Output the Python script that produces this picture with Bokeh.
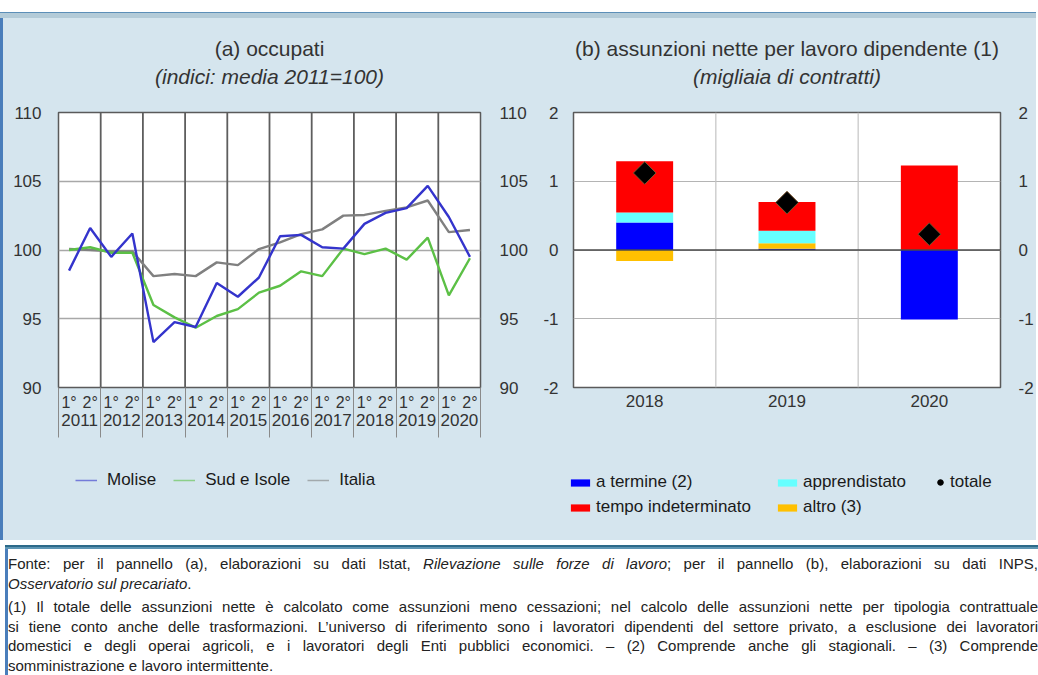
import numpy as np
from bokeh.plotting import figure
from bokeh.models import (FactorRange, Range1d, LinearAxis, Span, Legend, FixedTicker,
                          LegendItem, Title, Div, ColumnDataSource)
from bokeh.layouts import row, column
from bokeh.embed import file_html
from bokeh.resources import INLINE

# ---------------- data: panel (a) ----------------
years_a = ["2011", "2012", "2013", "2014", "2015", "2016", "2017", "2018", "2019", "2020"]
halves = ["1°", "2°"]
molise = [98.5, 101.6, 99.5, 101.2, 93.3, 94.75, 94.4, 97.6, 96.6, 98.0,
          101.0, 101.1, 100.2, 100.1, 101.9, 102.7, 103.05, 104.66, 102.4, 99.5]
sud_isole = [100.0, 100.2, 99.8, 99.8, 96.0, 95.1, 94.35, 95.2, 95.7, 96.9,
             97.4, 98.45, 98.1, 100.1, 99.7, 100.1, 99.3, 100.9, 96.7, 99.4]
italia = [100.07, 100.0, 99.9, 99.9, 98.1, 98.25, 98.1, 99.1, 98.9, 100.07,
          100.55, 101.15, 101.5, 102.5, 102.55, 102.85, 103.1, 103.6, 101.3, 101.45]
yticks_a = [90, 95, 100, 105, 110]

# ---------------- data: panel (b) ----------------
years_b = ["2018", "2019", "2020"]
a_termine = [0.40, 0.02, -1.01]
altro = [-0.16, 0.08, 0.0]
apprendistato = [0.145, 0.18, 0.0]
tempo_indeterminato = [0.745, 0.42, 1.23]
totale = [1.12, 0.69, 0.23]
yticks_b = [-2, -1, 0, 1, 2]

title_a = "(a) occupati"
subtitle_a = "(indici: media 2011=100)"
title_b = "(b) assunzioni nette per lavoro dipendente (1)"
subtitle_b = "(migliaia di contratti)"

foot_fonte = ('Fonte: per il pannello (a), elaborazioni su dati Istat, <i>Rilevazione sulle forze di lavoro</i>; '
              'per il pannello (b), elaborazioni su dati INPS,')
foot_fonte2 = '<i>Osservatorio sul precariato</i>.'
foot_notes = [
    "(1) Il totale delle assunzioni nette è calcolato come assunzioni meno cessazioni; nel calcolo delle assunzioni nette per tipologia contrattuale",
    "si tiene conto anche delle trasformazioni. L’universo di riferimento sono i lavoratori dipendenti del settore privato, a esclusione dei lavoratori",
    "domestici e degli operai agricoli, e i lavoratori degli Enti pubblici economici. – (2) Comprende anche gli stagionali. – (3) Comprende",
    "somministrazione e lavoro intermittente.",
]

FONT = "Liberation Sans"
TXT = "#333333"
PANEL_BG = "#d5e5ee"

C_MOLISE = "#3434cc"
C_SUD = "#5cc046"
C_ITALIA = "#808080"
C_BLUE = "#0000ff"
C_RED = "#ff0000"
C_CYAN = "#66ffff"
C_YELLOW = "#ffc000"


def style_common(p):
    p.background_fill_color = "white"
    p.border_fill_alpha = 0
    p.outline_line_color = "#5a5a5a"
    p.outline_line_width = 1.5
    p.toolbar.logo = None


def style_yaxis(ax, standoff, ticks):
    ax.ticker = ticks
    ax.major_tick_line_color = None
    ax.minor_tick_line_color = None
    ax.axis_line_color = None
    ax.major_label_text_font = FONT
    ax.major_label_text_font_size = "17px"
    ax.major_label_text_color = TXT
    ax.major_label_standoff = standoff
    ax.major_label_overrides = {t: str(t) for t in ticks}


def add_titles(p, main, sub):
    p.add_layout(Title(text=" ", align="center", text_font=FONT, text_font_size="10px",
                       standoff=10), "above")
    p.add_layout(Title(text=sub, align="center", text_font=FONT, text_font_size="21px",
                       text_font_style="italic", text_color=TXT, standoff=3), "above")
    p.add_layout(Title(text=main, align="center", text_font=FONT, text_font_size="21px",
                       text_font_style="normal", text_color=TXT, standoff=3), "above")


def legend_fig(width):
    f = figure(width=width, height=95, title=None, x_range=Range1d(0, 1), y_range=Range1d(0, 1),
               x_axis_type=None, y_axis_type=None, output_backend="svg", toolbar_location=None,
               min_border_left=0, min_border_right=0, min_border_top=0, min_border_bottom=0)
    f.background_fill_alpha = 0
    f.border_fill_alpha = 0
    f.outline_line_color = None
    f.xgrid.visible = False
    f.ygrid.visible = False
    return f


def make_legend(items, loc, orientation, gw, gh, spacing, standoff):
    return Legend(items=items, orientation=orientation, location=loc, padding=0, margin=0,
                  spacing=spacing, glyph_width=gw, glyph_height=gh, label_height=20,
                  label_standoff=standoff, label_text_font=FONT, label_text_font_size="17px",
                  label_text_color="#1a1a1a", border_line_color=None, background_fill_alpha=0)


# ---------------- panel (a) ----------------
factors = [(y, h) for y in years_a for h in halves]
pa = figure(width=530, height=445, title=None,
            x_range=FactorRange(factors=factors, group_padding=0, factor_padding=0, range_padding=0),
            y_range=Range1d(yticks_a[0], yticks_a[-1]),
            output_backend="svg", toolbar_location=None,
            min_border_left=58, min_border_right=47, min_border_top=112, min_border_bottom=58)
style_common(pa)
add_titles(pa, title_a, subtitle_a)

style_yaxis(pa.yaxis[0], 11, yticks_a)
ra = LinearAxis()
style_yaxis(ra, 13, yticks_a)
pa.add_layout(ra, "right")

xa = pa.xaxis[0]
xa.major_tick_line_color = None
xa.axis_line_color = None
xa.major_label_text_font = FONT
xa.major_label_text_font_size = "16px"
xa.major_label_text_color = TXT
xa.major_label_standoff = 0
xa.group_text_font = FONT
xa.group_text_font_size = "17px"
xa.group_text_font_style = "normal"
xa.group_text_color = TXT
xa.separator_line_color = None

bounds_a = [i * len(halves) for i in range(len(years_a) + 1)]
sep_axis = LinearAxis(ticker=FixedTicker(ticks=bounds_a), major_tick_in=-50, major_tick_out=0,
                      major_tick_line_color="#8a8a8a", major_tick_line_width=1,
                      minor_tick_line_color=None, axis_line_color=None,
                      major_label_text_font_size="1px", major_label_text_color=None,
                      major_label_standoff=0)
pa.below = [sep_axis] + list(pa.below)

pa.xgrid.visible = False
pa.ygrid.ticker = yticks_a
pa.ygrid.grid_line_color = "#a8a8a8"
pa.ygrid.grid_line_width = 1.5
for b in bounds_a[1:-1]:
    pa.add_layout(Span(location=b, dimension="height", line_color="#5e5e5e",
                       line_width=1.8, level="underlay"))

src_a = ColumnDataSource(dict(x=factors, molise=molise, sud=sud_isole, italia=italia))
pa.line("x", "italia", source=src_a, line_color=C_ITALIA, line_width=2.4)
pa.line("x", "sud", source=src_a, line_color=C_SUD, line_width=2.4)
pa.line("x", "molise", source=src_a, line_color=C_MOLISE, line_width=2.4)

# legend (a) in its own strip below the panel (legend-only glyphs with no drawable point)
la = legend_fig(530)
nodata = ColumnDataSource(dict(x=[np.nan], y=[np.nan], top=[np.nan]))
lg_mol = la.line("x", "y", source=nodata, line_color=C_MOLISE, line_width=1.5, line_alpha=0.6)
lg_sud = la.line("x", "y", source=nodata, line_color=C_SUD, line_width=1.5, line_alpha=0.6)
lg_it = la.line("x", "y", source=nodata, line_color=C_ITALIA, line_width=1.5, line_alpha=0.6)
la.add_layout(make_legend([LegendItem(label="Molise", renderers=[lg_mol]),
                           LegendItem(label="Sud e Isole", renderers=[lg_sud]),
                           LegendItem(label="Italia", renderers=[lg_it])],
                          (75, 50), "horizontal", 22, 20, 17, 10), "center")

# ---------------- panel (b) ----------------
pb = figure(width=506, height=445, title=None,
            x_range=FactorRange(factors=years_b, range_padding=0),
            y_range=Range1d(yticks_b[0], yticks_b[-1]),
            output_backend="svg", toolbar_location=None,
            min_border_left=43, min_border_right=27, min_border_top=112, min_border_bottom=58)
style_common(pb)
add_titles(pb, title_b, subtitle_b)

style_yaxis(pb.yaxis[0], 9, yticks_b)
rb = LinearAxis()
style_yaxis(rb, 12, yticks_b)
pb.add_layout(rb, "right")

xb = pb.xaxis[0]
xb.major_tick_line_color = None
xb.axis_line_color = None
xb.major_label_text_font = FONT
xb.major_label_text_font_size = "17px"
xb.major_label_text_color = TXT
xb.major_label_standoff = 1

pb.xgrid.visible = False
pb.ygrid.ticker = yticks_b
pb.ygrid.grid_line_color = "#b4b4b4"
pb.ygrid.grid_line_width = 1.2
for i in range(1, len(years_b)):
    pb.add_layout(Span(location=i, dimension="height", line_color="#c4c4c4",
                       line_width=1.2, level="underlay"))

series_b = [("a termine (2)", a_termine, C_BLUE),
            ("altro (3)", altro, C_YELLOW),
            ("apprendistato", apprendistato, C_CYAN),
            ("tempo indeterminato", tempo_indeterminato, C_RED)]
colors_b = {name: col for name, _, col in series_b}
pos = np.zeros(len(years_b))
neg = np.zeros(len(years_b))
for name, vals, col in series_b:
    v = np.array(vals, dtype=float)
    bottom = np.where(v >= 0, pos, neg)
    top = bottom + v
    pos = np.where(v >= 0, top, pos)
    neg = np.where(v < 0, top, neg)
    pb.vbar(x=years_b, bottom=bottom, top=top, width=0.4, fill_color=col, line_color=None)

pb.add_layout(Span(location=0, dimension="width", line_color="#4a4a4a", line_width=1.5))

pb.scatter(x=years_b, y=totale, marker="square", angle=np.pi / 4, size=16,
           fill_color="black", line_color="#7a5530", line_width=1)

# legend (b) in its own strip below the panel
lb = legend_fig(506)
lgr = {name: lb.vbar(x="x", top="top", width=0.4, source=nodata, fill_color=colors_b[name],
                     line_color=None) for name in colors_b}
lg_tot = lb.scatter("x", "y", source=nodata, marker="circle", size=6, fill_color="black",
                    line_color="black")
lb.add_layout(make_legend([LegendItem(label="a termine (2)", renderers=[lgr["a termine (2)"]]),
                           LegendItem(label="tempo indeterminato", renderers=[lgr["tempo indeterminato"]])],
                          (38, 23), "vertical", 24, 9, 5, 4), "center")
lb.add_layout(make_legend([LegendItem(label="apprendistato", renderers=[lgr["apprendistato"]]),
                           LegendItem(label="altro (3)", renderers=[lgr["altro (3)"]])],
                          (245, 23), "vertical", 24, 9, 5, 4), "center")
lb.add_layout(make_legend([LegendItem(label="totale", renderers=[lg_tot])],
                          (403, 48), "vertical", 14, 14, 5, 3), "center")

# ---------------- footnote ----------------
just = "text-align:justify;text-align-last:justify;"
html = ('<div style="font-family:\'Liberation Sans\',Arial,sans-serif;'
        'font-size:15px;color:#222;line-height:19.5px;padding:9px 0 0 3px;width:1033px;'
        'box-sizing:border-box;">'
        f'<div style="{just}">{foot_fonte}</div>'
        f'<div>{foot_fonte2}</div>'
        f'<div style="{just}margin-top:4px">{foot_notes[0]}</div>'
        f'<div style="{just}">{foot_notes[1]}</div>'
        f'<div style="{just}">{foot_notes[2]}</div>'
        f'<div>{foot_notes[3]}</div>'
        '</div>')
foot = Div(text=html, width=1036, height=134,
           styles={"background-color": "white", "overflow": "hidden",
                   "box-shadow": "inset 0 2px 0 #2c6a8a, inset 0 4px 0 #5d95b3, inset 3px 0 0 #4a7ebb"})

panel = column(row(pa, pb), row(la, lb),
               styles={"background-color": PANEL_BG,
                       "box-shadow": "inset 0 12px 0 #ffffff, inset 0 13px 0 #5c8fb8, "
                                     "inset 0 18px 0 #b3cbd8, inset 3px 0 0 #4a7ebb"})
page = column(panel, foot)

open("out.html", "w").write(file_html(page, INLINE))
